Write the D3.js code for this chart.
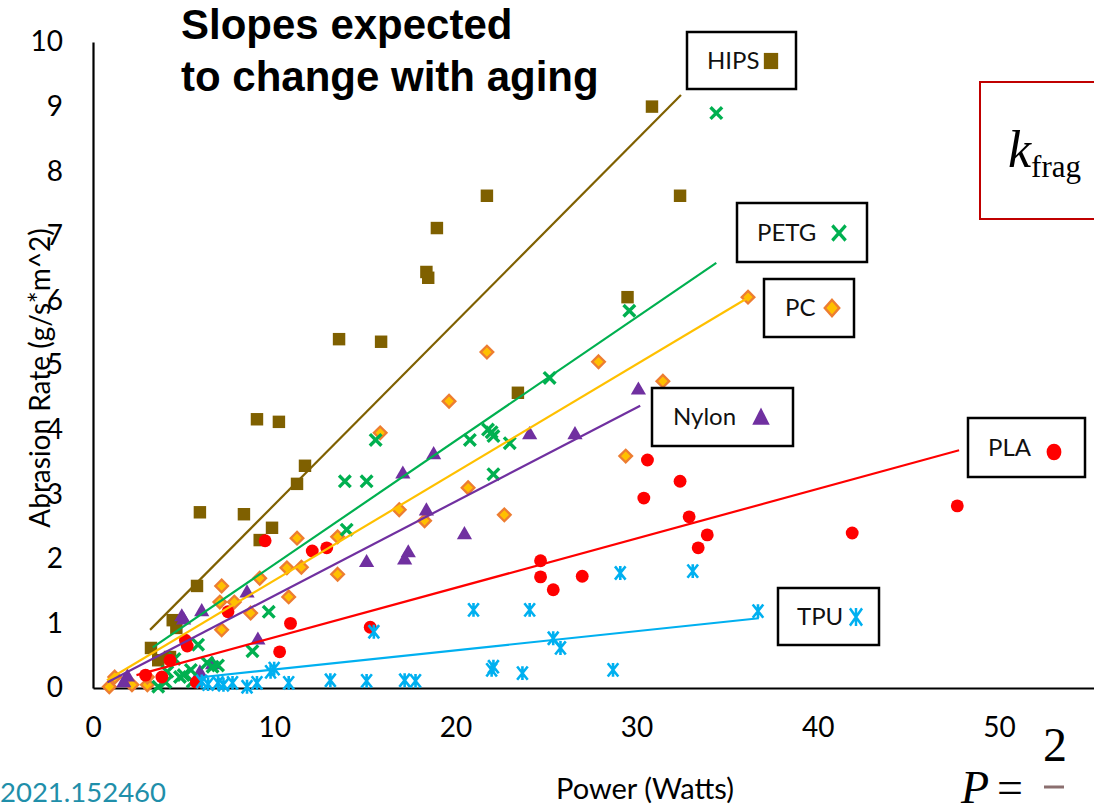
<!DOCTYPE html>
<html>
<head>
<meta charset="utf-8">
<script src="https://cdn.jsdelivr.net/npm/d3@7"></script>
<style>
body { margin: 0; background: #fff; }
svg { display: block; }
</style>
</head>
<body>
<svg id="chart" width="1094" height="804"></svg>
<script>
// values: [power (W), abrasion rate (g/s*m^2)]
const hips = [[30.85, 9.0], [32.4, 7.62], [21.74, 7.62], [18.98, 7.12], [18.4, 6.44], [18.5, 6.35],
  [29.5, 6.05], [13.58, 5.4], [15.9, 5.36], [23.45, 4.57], [9.05, 4.16], [10.26, 4.12], [11.7, 3.44],
  [11.26, 3.16], [5.9, 2.72], [8.33, 2.69], [9.88, 2.48], [9.2, 2.29], [5.74, 1.58], [3.2, 0.62],
  [4.4, 1.05], [4.6, 0.93], [4.25, 0.48], [3.6, 0.43]];
const pc = [[36.15, 6.05], [27.9, 5.05], [21.74, 5.2], [19.65, 4.44], [31.45, 4.75], [29.4, 3.59],
  [15.85, 3.95], [20.7, 3.1], [22.7, 2.68], [16.9, 2.76], [18.3, 2.59], [13.5, 1.76], [13.5, 2.34],
  [11.26, 2.32], [10.7, 1.86], [11.5, 1.87], [7.1, 1.58], [9.2, 1.7], [7.8, 1.33], [7.0, 1.33],
  [10.8, 1.41], [8.7, 1.16], [7.1, 0.9], [0.9, 0.02], [1.2, 0.17], [2.15, 0.05], [3.0, 0.05], [3.0, 0.17]];
const nylon = [[30.1, 4.61], [26.6, 3.92], [24.1, 3.92], [18.8, 3.61], [17.1, 3.31], [15.1, 1.94],
  [20.5, 2.37], [18.4, 2.74], [17.4, 2.09], [17.2, 1.98], [4.9, 1.1], [6.0, 1.18], [8.5, 1.47],
  [9.1, 0.74], [6.6, 0.36], [5.9, 0.23], [1.9, 0.17], [1.7, 0.08], [5.0, 1.05]];
const petg = [[34.4, 8.9], [29.6, 5.84], [25.2, 4.8], [21.8, 4.0], [22.0, 3.96], [22.1, 3.9], [20.8, 3.84],
  [23.0, 3.79], [22.1, 3.31], [15.6, 3.84], [13.9, 3.2], [15.1, 3.2], [14.0, 2.45], [9.7, 1.18],
  [8.8, 0.57], [5.8, 0.67], [6.3, 0.39], [4.1, 0.25], [5.4, 0.28], [4.8, 0.17], [4.0, 0.09], [3.6, 0.02],
  [6.6, 0.33], [5.0, 0.2], [4.5, 0.45], [5.5, 0.1], [6.9, 0.35]];
const pla = [[47.7, 2.82], [41.9, 2.4], [30.6, 3.53], [32.4, 3.2], [30.4, 2.94], [32.9, 2.65], [33.9, 2.37],
  [33.4, 2.17], [24.7, 1.97], [24.7, 1.72], [25.4, 1.52], [27.0, 1.73], [15.3, 0.94], [9.5, 2.28],
  [12.1, 2.12], [12.9, 2.17], [10.9, 1.0], [10.3, 0.56], [7.45, 1.18], [5.2, 0.65], [5.1, 0.74],
  [4.25, 0.43], [5.7, 0.09], [3.8, 0.17], [2.9, 0.2]];
const tpu = [[36.7, 1.19], [33.1, 1.81], [29.1, 1.78], [21.0, 1.21], [24.1, 1.21], [25.4, 0.77], [25.8, 0.62],
  [28.7, 0.28], [22.1, 0.33], [22.0, 0.28], [23.7, 0.23], [15.5, 0.87], [15.1, 0.11], [17.2, 0.12],
  [17.8, 0.11], [13.1, 0.12], [9.8, 0.25], [10.0, 0.3], [9.05, 0.08], [10.8, 0.08], [7.7, 0.08],
  [8.5, 0.02], [6.9, 0.08], [6.35, 0.06], [7.2, 0.05], [6.0, 0.1]];

// linear trendlines, start and end point
const hipsTrend = [[3.15, 0.9], [32.45, 9.18]];
const pcTrend = [[0.77, 0.12], [36.15, 6.04]];
const nylonTrend = [[0.8, 0.09], [30.2, 4.37]];
const petgTrend = [[3.3, 0.63], [34.4, 6.58]];
const plaTrend = [[2.4, 0.2], [47.8, 3.68]];
const tpuTrend = [[6.07, 0.17], [36.75, 1.08]];

const xTicks = [0, 10, 20, 30, 40, 50];
const yTicks = [0, 1, 2, 3, 4, 5, 6, 7, 8, 9, 10];

const svg = d3.select('#chart');
const font = 'Lato, "Open Sans", sans-serif';
const serif = '"Liberation Serif", "DejaVu Serif", serif';

const x = d3.scaleLinear().domain([0, 55.3]).range([93, 1095]);
const y = d3.scaleLinear().domain([0, 10]).range([688, 42]);

// custom marker shapes (excel style)
const symX = { draw(c, s) { const r = Math.sqrt(s) / 2; c.moveTo(-r, -r); c.lineTo(r, r); c.moveTo(-r, r); c.lineTo(r, -r); } };
const symStar = { draw(c, s) {
  const r = Math.sqrt(s) / 2;
  c.moveTo(-r * 0.8, -r); c.lineTo(r * 0.8, r); c.moveTo(-r * 0.8, r); c.lineTo(r * 0.8, -r);
  c.moveTo(0, -r * 1.05); c.lineTo(0, r * 1.05);
} };
const symDiamond = { draw(c, s) { const r = Math.sqrt(s) / 2; c.moveTo(0, -r); c.lineTo(r, 0); c.lineTo(0, r); c.lineTo(-r, 0); c.closePath(); } };

const styles = {
  HIPS: { type: d3.symbolSquare, size: 155, fill: '#7F6000', stroke: 'none', sw: 0, line: '#7F6000' },
  PC: { type: symDiamond, size: 160, fill: '#FFC000', stroke: '#ED7D31', sw: 2.3, line: '#FFC000' },
  Nylon: { type: d3.symbolTriangle, size: 100, fill: '#7030A0', stroke: 'none', sw: 0, line: '#7030A0' },
  PETG: { type: symX, size: 135, fill: 'none', stroke: '#00B050', sw: 3.4, line: '#00B050' },
  PLA: { type: d3.symbolCircle, size: 130, fill: '#FF0000', stroke: 'none', sw: 0, line: '#FF0000' },
  TPU: { type: symStar, size: 175, fill: 'none', stroke: '#00B0F0', sw: 2.6, line: '#00B0F0' }
};

const series = [
  { name: 'HIPS', pts: hips, trend: hipsTrend },
  { name: 'PC', pts: pc, trend: pcTrend },
  { name: 'Nylon', pts: nylon, trend: nylonTrend },
  { name: 'PETG', pts: petg, trend: petgTrend },
  { name: 'PLA', pts: pla, trend: plaTrend },
  { name: 'TPU', pts: tpu, trend: tpuTrend }
];

// axes
const yAxis = svg.append('g')
  .attr('transform', `translate(${x(0)},0)`)
  .call(d3.axisLeft(y).tickValues(yTicks).tickSize(0).tickPadding(30).tickFormat(d3.format('d')));
const xAxis = svg.append('g')
  .attr('transform', `translate(0,${y(0)})`)
  .call(d3.axisBottom(x).tickValues(xTicks).tickSize(0).tickPadding(29).tickFormat(d3.format('d')));
[yAxis, xAxis].forEach(a => {
  a.select('.domain').attr('stroke', '#000').attr('stroke-width', 2.2);
  a.selectAll('text').attr('font-family', font).attr('font-size', 28).attr('fill', '#000');
});

svg.append('text')
  .attr('transform', 'translate(50,378) rotate(-90)')
  .attr('text-anchor', 'middle')
  .attr('font-family', font).attr('font-size', 28)
  .text('Abrasion Rate (g/s*m^2)');

svg.append('text')
  .attr('x', 645).attr('y', 799)
  .attr('text-anchor', 'middle')
  .attr('font-family', font).attr('font-size', 29)
  .text('Power (Watts)');

// markers
series.forEach(s => {
  const st = styles[s.name];
  svg.append('g').selectAll('path')
    .data(s.pts)
    .join('path')
    .attr('transform', d => `translate(${x(d[0])},${y(d[1])})`)
    .attr('d', d3.symbol().type(st.type).size(st.size))
    .attr('fill', st.fill)
    .attr('stroke', st.stroke)
    .attr('stroke-width', st.sw)
    .attr('stroke-linejoin', 'miter');
});

// trendlines on top
const line = d3.line().x(d => x(d[0])).y(d => y(d[1]));
series.forEach(s => {
  svg.append('path')
    .attr('d', line(s.trend))
    .attr('fill', 'none')
    .attr('stroke', styles[s.name].line)
    .attr('stroke-width', 2.2);
});

// label boxes next to the trendlines
const boxes = [
  { name: 'HIPS', x0: 687, y0: 32, w: 109, h: 57, tx: 707, mx: 771, my: 61 },
  { name: 'PETG', x0: 737, y0: 203, w: 130, h: 59, tx: 757, mx: 839, my: 233 },
  { name: 'PC', x0: 764, y0: 279, w: 90, h: 58, tx: 785, mx: 832, my: 308 },
  { name: 'Nylon', x0: 652, y0: 388, w: 141, h: 58, tx: 673, mx: 761, my: 419 },
  { name: 'PLA', x0: 968, y0: 418, w: 117, h: 59, tx: 988, mx: 1054, my: 452 },
  { name: 'TPU', x0: 778, y0: 588, w: 101, h: 57, tx: 797, mx: 856, my: 617 }
];
boxes.forEach(b => {
  const st = styles[b.name];
  const g = svg.append('g');
  g.append('rect')
    .attr('x', b.x0).attr('y', b.y0).attr('width', b.w).attr('height', b.h)
    .attr('fill', '#fff').attr('stroke', '#000').attr('stroke-width', 2.5);
  g.append('text')
    .attr('x', b.tx).attr('y', b.y0 + b.h / 2 + 8)
    .attr('font-family', font).attr('font-size', 24).attr('fill', '#111')
    .text(b.name);
  g.append('path')
    .attr('transform', `translate(${b.mx},${b.my}) scale(1.15,1.3)`)
    .attr('d', d3.symbol().type(st.type).size(st.size))
    .attr('fill', st.fill)
    .attr('stroke', st.stroke)
    .attr('stroke-width', st.sw / 1.2);
});

// title
const title = svg.append('text')
  .attr('font-family', '"Liberation Sans", Arial, sans-serif')
  .attr('font-weight', 'bold').attr('font-size', 42).attr('fill', '#000');
title.append('tspan').attr('x', 181).attr('y', 39).text('Slopes expected');
title.append('tspan').attr('x', 181).attr('y', 91).text('to change with aging');

// formula fragments cut by the slide edge
svg.append('rect')
  .attr('x', 980).attr('y', 82).attr('width', 130).attr('height', 137)
  .attr('fill', 'none').attr('stroke', '#C00000').attr('stroke-width', 2);
const k = svg.append('text')
  .attr('x', 1008).attr('y', 167)
  .attr('font-family', serif);
k.append('tspan').attr('font-style', 'italic').attr('font-size', 52).text('k');
k.append('tspan').attr('font-size', 31).attr('dy', 10).text('frag');

const p = svg.append('text')
  .attr('x', 961).attr('y', 803)
  .attr('font-family', serif).attr('font-size', 46);
p.append('tspan').attr('font-style', 'italic').text('P');
p.append('tspan').attr('dx', 8).text('=');
svg.append('text')
  .attr('x', 1043).attr('y', 761)
  .attr('font-family', serif).attr('font-size', 48)
  .text('2');
svg.append('text')
  .attr('x', 1043).attr('y', 836)
  .attr('font-family', serif).attr('font-size', 48)
  .text('3');
svg.append('line')
  .attr('x1', 1044).attr('x2', 1064).attr('y1', 787).attr('y2', 787)
  .attr('stroke', '#8B6F6F').attr('stroke-width', 3);

svg.append('text')
  .attr('x', 0).attr('y', 802)
  .attr('font-family', font).attr('font-size', 27.5).attr('fill', '#1F8FAA')
  .text('2021.152460');
</script>
</body>
</html>
